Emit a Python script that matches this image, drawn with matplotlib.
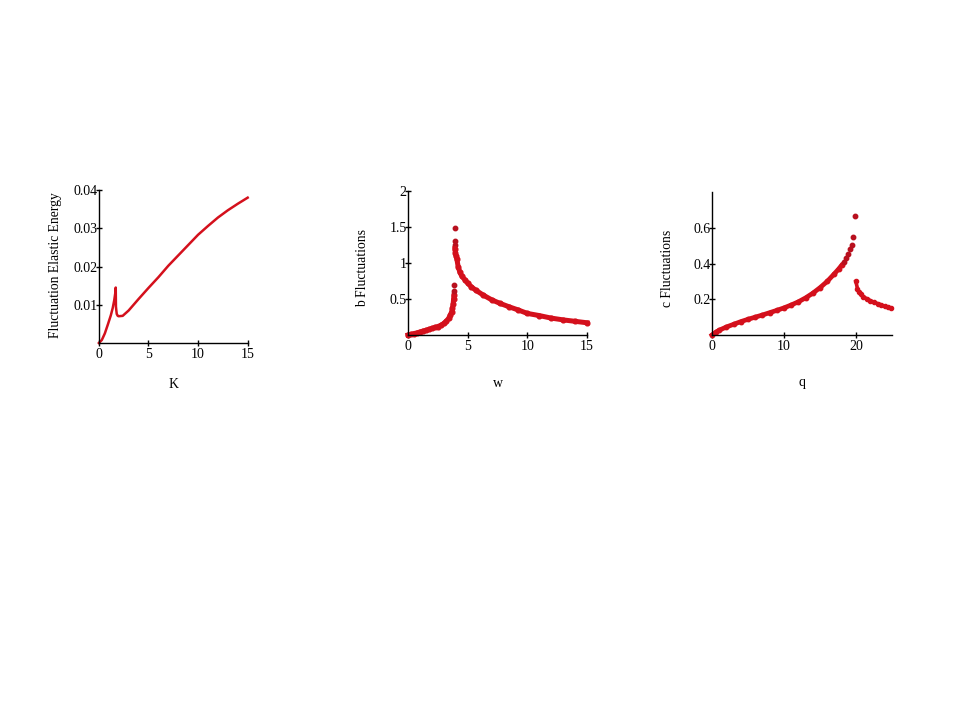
import matplotlib.pyplot as plt

# panel a: fluctuation elastic energy vs K
k_vals = [0.0, 0.3, 0.6, 0.9, 1.2, 1.4, 1.55, 1.65, 1.7, 1.72, 1.76, 1.8, 1.9, 2.0,
          2.4, 2.7, 3.0, 4.0, 5.0, 6.0, 7.0, 8.0, 9.0, 10.0, 11.0, 12.0, 13.0, 14.0, 15.0]
energy = [0.0, 0.0008, 0.0025, 0.0048, 0.0072, 0.0092, 0.0112, 0.013, 0.0145, 0.0095,
          0.0085, 0.0076, 0.0071, 0.007, 0.0071, 0.0078, 0.0085, 0.0115, 0.0144, 0.0172,
          0.0202, 0.0229, 0.0256, 0.0283, 0.0306, 0.0328, 0.0347, 0.0364, 0.038]

# panel b: b fluctuations vs w
w_low = [0.0, 0.25, 0.5, 0.75, 1.0, 1.25, 1.5, 1.75, 2.0, 2.25, 2.5, 2.75, 3.0, 3.2,
         3.4, 3.55, 3.65, 3.72, 3.78, 3.82, 3.85]
b_low = [0.0, 0.01, 0.02, 0.03, 0.042, 0.055, 0.065, 0.078, 0.092, 0.105, 0.118, 0.135,
         0.16, 0.19, 0.23, 0.28, 0.32, 0.37, 0.43, 0.5, 0.55]
w_spike = [3.87, 3.88, 3.9, 3.9, 3.92]
b_spike = [0.615, 0.69, 1.48, 1.31, 1.25]
w_high = [3.93, 3.97, 4.02, 4.1, 4.2, 4.35, 4.5, 4.75, 5.0, 5.3, 5.7, 6.3, 7.0, 7.7,
          8.5, 9.2, 10.0, 11.0, 12.0, 13.0, 14.0, 15.0]
b_high = [1.2, 1.14, 1.1, 1.05, 0.95, 0.87, 0.82, 0.77, 0.72, 0.67, 0.62, 0.555, 0.49,
          0.44, 0.39, 0.35, 0.30, 0.27, 0.235, 0.21, 0.19, 0.17]

# panel c: c fluctuations vs q
q_low = [0.0, 0.5, 1.0, 2.0, 3.0, 4.0, 5.0, 6.0, 7.0, 8.0, 9.0, 10.0, 11.0, 12.0,
         13.0, 14.0, 15.0, 16.0, 17.0, 17.6, 18.0]
c_low = [0.0, 0.015, 0.027, 0.045, 0.06, 0.075, 0.088, 0.1, 0.112, 0.125, 0.138, 0.152,
         0.168, 0.186, 0.208, 0.234, 0.265, 0.3, 0.343, 0.37, 0.39]
q_spike = [18.3, 18.6, 18.9, 19.2, 19.4, 19.6, 19.8]
c_spike = [0.41, 0.43, 0.455, 0.48, 0.505, 0.55, 0.665]
q_high = [19.97, 20.2, 20.4, 20.7, 21.0, 21.5, 22.0, 22.5, 23.0, 23.5, 24.0, 24.5, 24.9]
c_high = [0.30, 0.26, 0.24, 0.228, 0.215, 0.203, 0.192, 0.183, 0.176, 0.168, 0.16,
          0.155, 0.15]

RED = "#d4101c"
DOT = "#b8101e"


def style_axes(ax):
    for side in ("top", "right"):
        ax.spines[side].set_visible(False)
    for side in ("left", "bottom"):
        ax.spines[side].set_linewidth(1.0)
    ax.tick_params(direction="inout", length=5, width=1, labelsize=10)
    ax.tick_params(axis="x", pad=1)
    ax.tick_params(axis="y", pad=-1.5)


def main():
    plt.rcParams["font.family"] = ["Liberation Serif", "DejaVu Serif"]
    fig = plt.figure(figsize=(9.6, 7.2), dpi=100)

    # panel a
    ax1 = fig.add_axes([0.103, 0.5236, 0.155, 0.2125])
    ax1.plot(k_vals, energy, color=RED, lw=1.8)
    ax1.set_xlim(0, 15)
    ax1.set_ylim(0, 0.04)
    ax1.set_xticks([0, 5, 10, 15])
    ax1.set_yticks([0.01, 0.02, 0.03, 0.04])
    ax1.set_yticklabels(["0.01", "0.02", "0.03", "0.04"])
    ax1.set_xlabel("K", fontsize=10)
    ax1.set_ylabel("Fluctuation Elastic Energy", fontsize=9.8)
    ax1.xaxis.set_label_coords(0.5, -0.23)
    ax1.yaxis.set_label_coords(-0.25, 0.51)
    style_axes(ax1)

    # panel b
    ax2 = fig.add_axes([0.425, 0.5347, 0.1865, 0.2])
    ax2.plot(w_low, b_low, color=RED, lw=3.6, marker="o", ms=3.4, mfc=RED, mec=RED)
    ax2.plot(w_spike, b_spike, ls="none", marker="o", ms=3.2, color=DOT)
    ax2.plot(w_high, b_high, color=RED, lw=3.6, marker="o", ms=3.4, mfc=RED, mec=RED)
    ax2.set_xlim(0, 15)
    ax2.set_ylim(0, 2)
    ax2.set_xticks([0, 5, 10, 15])
    ax2.set_yticks([0.5, 1, 1.5, 2])
    ax2.set_yticklabels(["0.5", "1", "1.5", "2"])
    ax2.set_xlabel("w", fontsize=10)
    ax2.set_ylabel("b Fluctuations", fontsize=9.8)
    ax2.xaxis.set_label_coords(0.5, -0.29)
    ax2.yaxis.set_label_coords(-0.218, 0.465)
    style_axes(ax2)

    # panel c
    ax3 = fig.add_axes([0.7417, 0.5347, 0.1875, 0.1986])
    ax3.plot(q_low, c_low, color=RED, lw=3.4, marker="o", ms=3.2, mfc=RED, mec=RED)
    ax3.plot(q_spike, c_spike, ls="none", marker="o", ms=3.2, color=DOT)
    ax3.plot(q_high, c_high, color=RED, lw=2.6, marker="o", ms=3, mfc=RED, mec=RED)
    ax3.set_xlim(0, 25)
    ax3.set_ylim(0, 0.8)
    ax3.set_xticks([0, 10, 20])
    ax3.set_yticks([0.2, 0.4, 0.6])
    ax3.set_yticklabels(["0.2", "0.4", "0.6"])
    ax3.set_xlabel("q", fontsize=10)
    ax3.set_ylabel("c Fluctuations", fontsize=9.8)
    ax3.xaxis.set_label_coords(0.5, -0.29)
    ax3.yaxis.set_label_coords(-0.211, 0.465)
    style_axes(ax3)

    for ax in (ax1, ax2, ax3):
        for line in ax.get_lines():
            line.set_clip_on(False)

    fig.savefig("out.png", dpi=100)


if __name__ == "__main__":
    main()
